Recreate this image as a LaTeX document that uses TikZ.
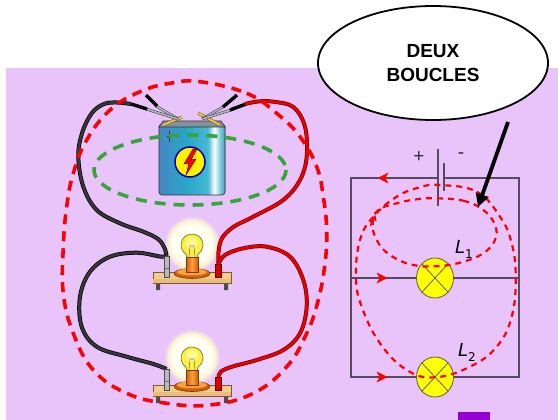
\documentclass[tikz,border=0pt]{standalone}
\usepackage{fontspec}
\setmainfont{Liberation Sans}
\newfontfamily\dejavu{DejaVu Sans}
\usetikzlibrary{shapes.geometric,arrows.meta}

\definecolor{bg}{RGB}{232,196,250}
\definecolor{blockviolet}{RGB}{148,0,211}
\definecolor{dashred}{RGB}{255,0,0}
\definecolor{dashgreen}{RGB}{55,165,55}
\definecolor{schem}{RGB}{85,75,95}
\definecolor{signgrey}{RGB}{50,45,55}
\definecolor{lampyel}{RGB}{255,255,0}
\definecolor{battA}{RGB}{70,135,195}
\definecolor{battB}{RGB}{40,165,200}
\definecolor{battC}{RGB}{70,185,210}
\definecolor{battD}{RGB}{130,205,220}
\definecolor{battE}{RGB}{70,160,190}
\definecolor{lid}{RGB}{135,145,155}
\definecolor{jawgrey}{RGB}{175,185,195}
\definecolor{contactyel}{RGB}{230,200,70}
\definecolor{boardtan}{RGB}{245,205,140}
\definecolor{boardedge}{RGB}{120,90,50}
\definecolor{orangeA}{RGB}{205,95,10}
\definecolor{orangeB}{RGB}{255,160,60}
\definecolor{glassyel}{RGB}{255,240,60}
\definecolor{wireblack}{RGB}{55,55,55}
\definecolor{wirered}{RGB}{235,0,0}

\pgfdeclareradialshading{lampglow}{\pgfpoint{0bp}{0bp}}{color(0bp)=(white); color(17bp)=(white!94!yellow); color(21bp)=(white!80!yellow!80!bg); color(25bp)=(bg); color(50bp)=(bg)}
\pgfdeclarehorizontalshading{battbody}{100bp}{color(0bp)=(battA); color(25bp)=(battA); color(45bp)=(battB); color(62bp)=(battC); color(67bp)=(white); color(71bp)=(battD); color(75bp)=(battE); color(100bp)=(battE)}

\tikzset{
  blackwire/.style={draw=wireblack, line width=2.6, preaction={draw=black, line width=4}},
  redwire/.style={draw=wirered, line width=2.6, preaction={draw=red!45!black, line width=4}},
  jaw/.style={draw=jawgrey, line width=1.6, preaction={draw=gray!40!black, line width=2.6}},
  handle/.style={draw=black, line width=3.4},
  contact/.style={draw=contactyel, line width=2, preaction={draw=brown!60!black, line width=3}},
  reddash/.style={draw=dashred, line width=3.6, dash pattern=on 10pt off 7pt},
  greendash/.style={draw=dashgreen, line width=3.6, dash pattern=on 11pt off 8pt},
  loopdash/.style={draw=dashred, line width=2.2, dash pattern=on 6pt off 5pt},
  wire/.style={draw=schem, line width=1.3},
  lamp/.style={ellipse, draw=black!70!yellow, line width=0.8, fill=lampyel,
    minimum width=37pt, minimum height=40pt, inner sep=0pt},
  sign/.style={text=signgrey, font=\fontsize{19}{19}\selectfont, inner sep=0pt},
  lbl/.style={font=\dejavu\fontsize{18}{18}\selectfont\itshape, inner sep=0pt},
  callout/.style={ellipse, draw=black, line width=1.8, fill=white,
    minimum width=230pt, minimum height=114pt, inner sep=0pt, align=center,
    font=\bfseries\fontsize{19}{24}\selectfont},
  flowtip/.style={fill=dashred},
  lampglowpic/.pic={
    \path[shading=lampglow] (0,-28) circle[radius=28];
  },
  lampstand/.pic={
    % wooden board and legs
    \fill[gray!60!black] (-36,10) rectangle (-32,18) (32,10) rectangle (36,18);
    \filldraw[fill=boardtan, draw=boardedge, line width=0.7] (-39,0) rectangle (39,11);
    \fill[boardtan!80!brown] (-38.6,7) rectangle (38.6,10.6);
    % terminals
    \filldraw[fill=gray!55, draw=black!70, line width=0.6] (-28,-16) rectangle (-23,5);
    \draw[black!60, line width=0.5] (-28,-4) -- (-23,-4);
    \filldraw[fill=red!85!black, draw=red!40!black, line width=0.6] (23,-8) rectangle (29,5);
    % orange base disc and socket
    \filldraw[fill=orangeA, draw=orangeA!60!black, line width=0.6] (0,1.5) ellipse[x radius=18, y radius=5];
    \fill[orangeB] (0,0) ellipse[x radius=15, y radius=3.5];
    % glass bulb
    \filldraw[fill=glassyel, draw=black!55!yellow, line width=0.8]
      (-5,-14) -- (-6,-17.8) arc[start angle=123, end angle=417, radius=11] -- (5,-14) -- cycle;
    \fill[white!55!yellow] (0,-29) circle[radius=6];
    \draw[gray, line width=0.6] (-3,-15) -- (-2,-26) -- (2,-26) -- (3,-15);
    % socket
    \filldraw[left color=orangeA, right color=orangeA, middle color=orangeB, draw=orangeA!60!black, line width=0.6] (-6,-15) rectangle (6,0);
  }
}

\begin{document}
\begin{tikzpicture}[x=1pt,y=-1pt]
\useasboundingbox (0,0) rectangle (558,420);
\fill[white] (0,0) rectangle (558,420);
\fill[bg] (6,68) rectangle (558,420);
\fill[blockviolet] (458,412) rectangle (490,420);

% ---------- circuit with two lamp stands ----------
\pic at (192,272) {lampglowpic};
\pic at (192,385) {lampglowpic};

% battery
\filldraw[shading=battbody, draw=gray!40!black, line width=0.6, rounded corners=3] (159,124) rectangle (225,195);
\filldraw[fill=lid, draw=gray!40!black, line width=0.6] (159,127) -- (163,121) -- (221,121) -- (225,127) -- cycle;
\draw[black!80, line width=0.7] (169,131) -- (169,142) (166.5,136) -- (171.5,136);
\filldraw[fill=yellow, draw=blue!70!black, line width=1.5] (190,162) circle[radius=15];
\filldraw[fill=red, draw=red!40!black, line width=0.5]
  (193,149) -- (184,164) -- (189,163) -- (186,175) -- (196,159) -- (191,160) -- (197,149) -- cycle;

% battery contacts
\draw[contact] (163,125) -- (182,117);
\draw[contact] (198,113) -- (220,125);

% crocodile clips
\draw[jaw] (156,106) -- (178,119);
\draw[jaw] (146,109) -- (178,119);
\draw[handle] (146,95) -- (157,106);
\draw[handle] (131,104) -- (147,109);
\draw[jaw] (223,107) -- (202,119);
\draw[jaw] (231,110) -- (202,119);
\draw[handle] (237,95) -- (223,107);
\draw[handle] (246,104) -- (230,110);

% connection points
\coordinate (clipL) at (131,104);
\coordinate (clipR) at (245,104);
\coordinate (postAL) at (166.5,256);
\coordinate (postAR) at (218.5,264);
\coordinate (postBL) at (166.5,369);
\coordinate (postBR) at (218.5,377);

% leads
\draw[blackwire] plot[smooth, tension=0.6] coordinates {(clipL) (117,102.5) (104,104) (91.7,113.3) (82,133.3) (78.3,156.7) (83.3,186.7) (96.7,210) (120,223.3) (143.3,231.7) (158,239) (164.5,248) (postAL)};
\draw[redwire] plot[smooth, tension=0.6] coordinates {(clipR) (258,101.5) (273.3,101.7) (293.3,107) (305,126.7) (306.7,156.7) (300,180) (283.3,200) (253.3,216.7) (233.3,227) (222,238.3) (218.5,252) (postAR)};
\draw[blackwire] plot[smooth, tension=0.6] coordinates {(postAL) (160,256.5) (136.7,252.7) (110,256.7) (90,271.7) (80,296.7) (81.7,326.7) (96.7,346.7) (126.7,356.7) (153.3,364) (postBL)};
\draw[redwire] plot[smooth, tension=0.6] coordinates {(postAR) (225,255) (243.3,248.3) (266.7,246.7) (290,256.7) (303.3,280) (306.7,306.7) (300,333.3) (283.3,350) (256.7,360) (232,366.7) (221,371.5) (postBR)};

\pic at (192,272) {lampstand};
\pic at (192,385) {lampstand};

% loops traced over the circuit
\draw[greendash] (190,170) ellipse[x radius=96, y radius=35];
\draw[reddash] plot[smooth cycle, tension=0.7] coordinates {(200,81.7) (246.7,93.3) (276.7,113.3) (300,136.7) (316.7,166.7) (323.3,196.7) (326.7,230) (325,263.3) (318.3,300) (306.7,333.3) (286.7,366.7) (253.3,393.3) (210,405) (166.7,403.3) (126.7,393.3) (93.3,370) (73.3,333.3) (63.3,293.3) (63.3,246.7) (66.7,206.7) (73.3,173.3) (86.7,140) (110,110) (140,91.7) (170,83.3)};

% ---------- circuit diagram ----------
\coordinate (tl) at (351,178);
\coordinate (tr) at (519,178);
\coordinate (ml) at (351,278);
\coordinate (mr) at (519,278);
\coordinate (bl) at (351,377);
\coordinate (br) at (519,377);
\coordinate (platePos) at (438,178);
\coordinate (plateNeg) at (444,178);
\node[lamp] (L1) at (435,278) {};
\node[lamp] (L2) at (435,377) {};

\draw[wire] (platePos) -- (tl) -- (bl) -- (L2);
\draw[wire] (L2) -- (br) -- (tr) -- (plateNeg);
\draw[wire] (ml) -- (L1) -- (mr);
\draw[wire] (platePos) ++(0,-29) -- ++(0,57);
\draw[schem, line width=2.8] (plateNeg) ++(0,-15) -- ++(0,28);
\foreach \l in {L1,L2} {
  \draw[black!70!yellow, line width=0.8] (\l.north east) -- (\l.south west) (\l.north west) -- (\l.south east);
}
\node[sign] (plus) at (419,157) {+};
\node[sign] (minus) at (461,156) {-};
\node[lbl] (lab1) at (464,249) {L\raisebox{-0.5ex}{\fontsize{12}{12}\selectfont\upshape 1}};
\node[lbl] (lab2) at (467,352) {L\raisebox{-0.5ex}{\fontsize{12}{12}\selectfont\upshape 2}};

% current direction marks
\fill[flowtip] (377.5,178) -- (388.5,172.5) -- (385.5,178) -- (388.5,183.5) -- cycle;
\fill[flowtip] (387.5,278) -- (376.5,272.5) -- (379.5,278) -- (376.5,283.5) -- cycle;
\fill[flowtip] (387.5,377) -- (376.5,371.5) -- (379.5,377) -- (376.5,382.5) -- cycle;

% the two current loops
\draw[loopdash] plot[smooth cycle, tension=0.7] coordinates {(436.7,198.3) (463.3,200.7) (483.3,210) (495,225) (495,240) (483.3,253.3) (463.3,261.7) (440,266) (413.3,265) (390,255) (376.7,240) (372.7,223.3) (378.3,210) (396.7,203.3) (416.7,199.3)};
\draw[loopdash] plot[smooth cycle, tension=0.7] coordinates {(440,185) (476.7,191.7) (500,216.7) (511.7,243.3) (515.7,276.7) (511.7,316.7) (496.7,346.7) (470,366.7) (435,377.3) (406.7,370) (380,343.3) (361.7,306.7) (356,276.7) (360,240) (373.3,216.7) (396.7,196.7) (420,187.3)};
\draw[dashred, line width=1.4] (370.5,226) .. controls (371.5,221) .. (375,216.5);
\fill[dashred] (375.5,215) -- (376.5,222) -- (374.2,219.5) -- (371.2,220.5) -- cycle;

% ---------- callout ----------
\node[callout] (callout) at (433,63) {DEUX\\BOUCLES};
\coordinate (calloutTail) at (508,122);
\coordinate (loopPoint) at (478,207);
\draw[line width=3.8, -{Triangle[length=13pt,width=13pt]}] (calloutTail) -- (loopPoint);
\end{tikzpicture}
\end{document}
